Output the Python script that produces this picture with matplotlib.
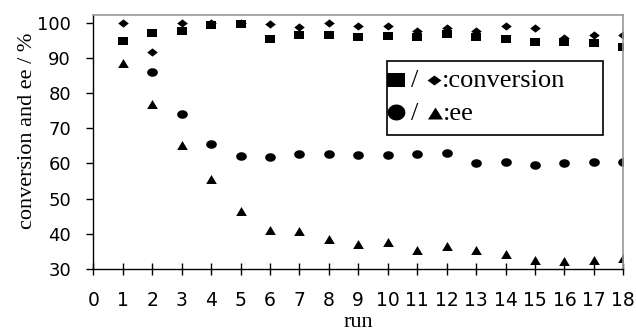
import numpy as np
import matplotlib
matplotlib.use("Agg")
import matplotlib.pyplot as plt
from matplotlib.path import Path
from matplotlib.patches import Rectangle
from matplotlib.lines import Line2D

runs = list(range(1, 19))
conv_square = [94.9, 97.0, 97.7, 99.3, 99.6, 95.4, 96.5, 96.5, 95.9, 96.3, 96.0, 96.8, 96.0, 95.3, 94.4, 94.4, 94.1, 93.2]
conv_diamond = [99.8, 91.6, 100.0, 100.0, 99.8, 99.5, 98.9, 100.0, 99.1, 99.1, 97.6, 98.6, 97.6, 99.1, 98.4, 95.8, 96.5, 96.5]
ee_circle = [np.nan, 86.1, 74.2, 65.5, 62.1, 61.8, 62.8, 62.8, 62.4, 62.4, 62.7, 63.1, 60.1, 60.3, 59.6, 60.1, 60.3, 60.3]
ee_triangle = [88.5, 76.9, 65.3, 55.6, 46.4, 41.2, 40.9, 38.4, 37.0, 37.6, 35.5, 36.5, 35.4, 34.4, 32.7, 32.3, 32.5, 33.1]
xticks = list(range(0, 19))
yticks = list(range(30, 101, 10))

def rect_marker(w, h):
    return Path([(-w/2, -h/2), (w/2, -h/2), (w/2, h/2), (-w/2, h/2), (-w/2, -h/2)],
                [Path.MOVETO, Path.LINETO, Path.LINETO, Path.LINETO, Path.CLOSEPOLY])

def diamond_marker(w, h):
    return Path([(-w/2, 0), (0, h/2), (w/2, 0), (0, -h/2), (-w/2, 0)],
                [Path.MOVETO, Path.LINETO, Path.LINETO, Path.LINETO, Path.CLOSEPOLY])

def ellipse_marker(w, h, n=40):
    t = np.linspace(0, 2*np.pi, n)
    v = np.column_stack([w/2*np.cos(t), h/2*np.sin(t)])
    codes = [Path.MOVETO] + [Path.LINETO]*(n-2) + [Path.CLOSEPOLY]
    return Path(v, codes)

def tri_marker(w, h):
    return Path([(-w/2, -h/2), (w/2, -h/2), (0, h/2), (-w/2, -h/2)],
                [Path.MOVETO, Path.LINETO, Path.LINETO, Path.CLOSEPOLY])

fig = plt.figure(figsize=(6.36, 3.31), dpi=100)
ax = fig.add_axes([93.3/636, 1-269/331, (623.3-93.3)/636, (269-15)/331])

kw = dict(linestyle='none', color='black', markeredgewidth=0)
ax.plot(runs, conv_diamond, marker=diamond_marker(1.0, 0.78), markersize=7.6, **kw)
ax.plot(runs, conv_square, marker=rect_marker(1.0, 0.82), markersize=7.9, **kw)
ax.plot(runs, ee_circle, marker=ellipse_marker(1.0, 0.8), markersize=7.7, **kw)
ax.plot(runs, ee_triangle, marker=tri_marker(1.0, 0.84), markersize=7.7, **kw)

ax.set_xlim(0, 18)
ax.set_ylim(30, 102.2)
ax.set_xticks(xticks)
ax.set_yticks(yticks)
ax.set_xticklabels([str(v) for v in xticks], fontsize=13.5, family='DejaVu Sans')
ax.set_yticklabels([str(v) for v in yticks], fontsize=13, family='DejaVu Sans')
ax.tick_params(axis='x', direction='inout', length=8, width=1, pad=12)
ax.tick_params(axis='y', direction='out', length=5, width=1, pad=11)

for s in ['left', 'bottom']:
    ax.spines[s].set_color('black')
    ax.spines[s].set_linewidth(1)
for s in ['top', 'right']:
    ax.spines[s].set_color('#999999')
    ax.spines[s].set_linewidth(1.2)

ax.set_xlabel('run', fontsize=16, family='Liberation Serif', va='top')
ax.xaxis.set_label_coords(0.5, -0.173)
ax.set_ylabel('conversion and ee / %', fontsize=16, family='Liberation Serif')
ax.yaxis.set_label_coords(-0.106, 0.543)

# legend box
lx0, lx1, ly0, ly1 = 387, 603, 61, 135
fig.patches.append(Rectangle((lx0/636, 1-ly1/331), (lx1-lx0)/636, (ly1-ly0)/331,
                             transform=fig.transFigure, fill=True, facecolor='white',
                             edgecolor='black', linewidth=1.2, zorder=5))

def fig_marker(xc, yc, path, size):
    fig.lines.append(Line2D([xc/636], [1-yc/331], transform=fig.transFigure,
                            marker=path, markersize=size, color='black',
                            markeredgewidth=0, linestyle='none', zorder=6))

fig_marker(396, 80, rect_marker(1.0, 0.8), 12.8)
fig_marker(434, 80, diamond_marker(1.0, 0.72), 10.0)
fig_marker(396, 112, ellipse_marker(1.0, 0.9), 12.8)
fig_marker(434.5, 112.5, tri_marker(1.0, 0.8), 10.8)

serif = 'Liberation Serif'
fig.text(411/636, 1-87/331, '/', fontsize=19, family=serif, ha='left', va='baseline', zorder=6)
fig.text(442/636, 1-87/331, ':conversion', fontsize=19, family=serif, ha='left', va='baseline', zorder=6)
fig.text(411/636, 1-120/331, '/', fontsize=19, family=serif, ha='left', va='baseline', zorder=6)
fig.text(443/636, 1-120/331, ':ee', fontsize=19, family=serif, ha='left', va='baseline', zorder=6)

fig.savefig('out.png', dpi=100)
